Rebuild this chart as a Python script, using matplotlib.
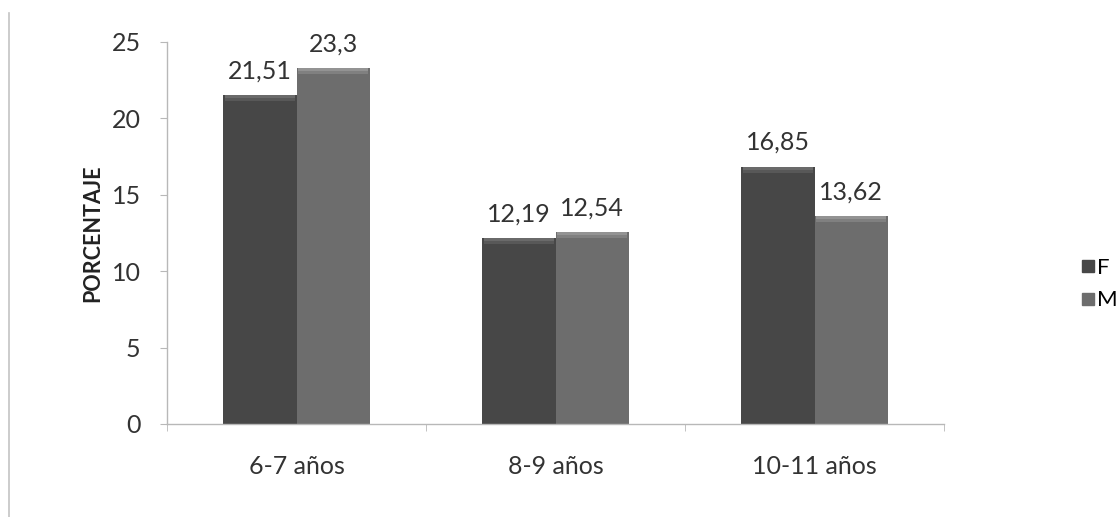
import matplotlib.pyplot as plt
import numpy as np
from matplotlib.lines import Line2D

# Porcentaje de estudiantes por grupo de edad y sexo
grupos = ["6-7 años", "8-9 años", "10-11 años"]
femenino = [21.51, 12.19, 16.85]
masculino = [23.3, 12.54, 13.62]
etiquetas_f = ["21,51", "12,19", "16,85"]
etiquetas_m = ["23,3", "12,54", "13,62"]

plt.rcParams['font.family'] = ['Lato', 'DejaVu Sans']

color_f = "#474747"
color_m = "#6d6d6d"
eje = "#b8b8b8"
texto = "#333333"
fs = 18

fig = plt.figure(figsize=(11.18, 5.17), dpi=100)
ax = fig.add_axes([0.1494, 0.1799, 0.695, 0.7389])

x = np.arange(len(grupos))
ancho = 0.282

bars_f = ax.bar(x - ancho / 2, femenino, ancho, color=color_f, edgecolor="none", label="F")
bars_m = ax.bar(x + ancho / 2, masculino, ancho, color=color_m, edgecolor="none", label="M")

# bisel claro en la parte superior de cada barra
for bars, tonos in ((bars_f, ("#6a6a6a", "#585858")), (bars_m, ("#939393", "#808080"))):
    for b in bars:
        cx = b.get_x() + b.get_width() / 2
        top = b.get_height()
        ax.bar(cx, 0.2, b.get_width() * 0.96, bottom=top - 0.2, color=tonos[0], edgecolor="none")
        ax.bar(cx, 0.2, b.get_width() * 0.96, bottom=top - 0.4, color=tonos[1], edgecolor="none")

for xi, v, t in zip(x - ancho / 2, femenino, etiquetas_f):
    ax.annotate(t, (xi, v), xytext=(0, 9), textcoords="offset points",
                ha="center", va="bottom", fontsize=fs, color=texto)
for xi, v, t in zip(x + ancho / 2, masculino, etiquetas_m):
    ax.annotate(t, (xi, v), xytext=(0, 9), textcoords="offset points",
                ha="center", va="bottom", fontsize=fs, color=texto)

ax.set_xlim(-0.5, 2.5)
ax.set_ylim(0, 25)
ax.set_yticks(range(0, 26, 5))
ax.set_xticks(x)
ax.set_xticklabels(grupos)
ax.set_xticks([-0.5, 0.5, 1.5, 2.5], minor=True)
ax.tick_params(axis="x", which="major", length=0, pad=22, labelsize=fs, labelcolor=texto)
ax.tick_params(axis="x", which="minor", length=5, color=eje, direction="out")
ax.tick_params(axis="y", length=5, color=eje, pad=14, labelsize=fs, labelcolor=texto)

for s in ("top", "right"):
    ax.spines[s].set_visible(False)
for s in ("left", "bottom"):
    ax.spines[s].set_color(eje)
    ax.spines[s].set_linewidth(1)

ax.set_ylabel("PORCENTAJE", fontsize=15.5, fontweight="bold", color="#222222", labelpad=6)

handles = [Line2D([], [], marker="s", linestyle="none", markersize=9, color=color_f),
           Line2D([], [], marker="s", linestyle="none", markersize=9, color=color_m)]
fig.legend(handles, ["F", "M"], loc="center left", bbox_to_anchor=(0.967, 0.45),
           frameon=False, fontsize=16, handletextpad=0.1, labelspacing=0.55,
           handlelength=0.6, borderaxespad=0, borderpad=0)

# borde izquierdo del área del gráfico
fig.add_artist(Line2D([0.008, 0.008], [0.0, 0.975], color="#c4c4c4", linewidth=1.2,
                      transform=fig.transFigure))

fig.savefig("out.png", dpi=100)
